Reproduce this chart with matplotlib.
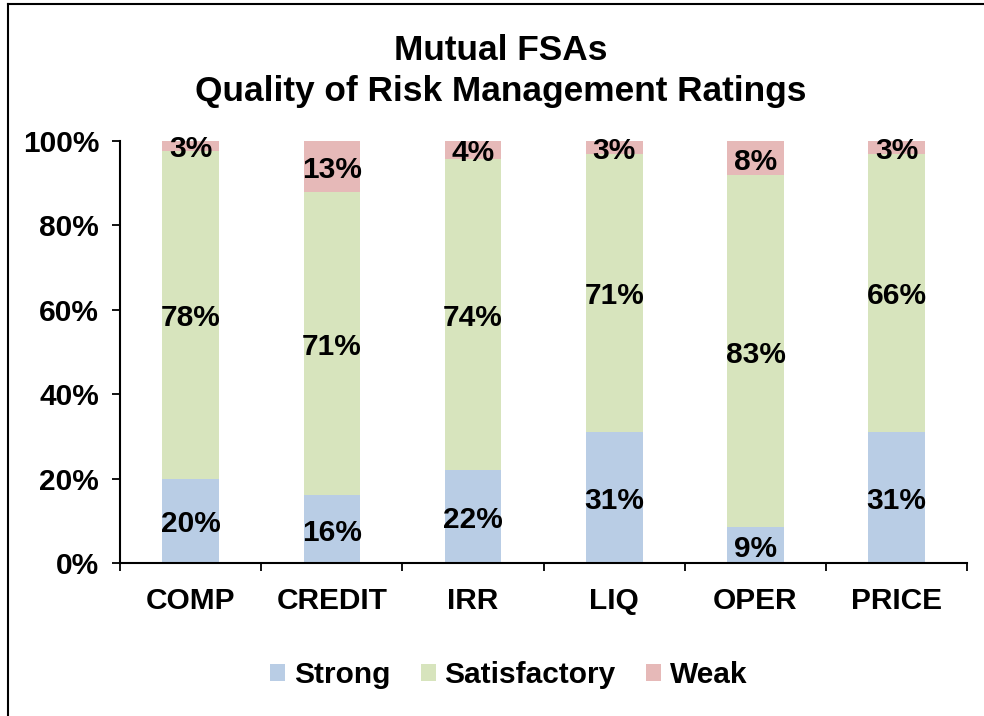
import matplotlib
matplotlib.use("Agg")
import matplotlib.pyplot as plt
from matplotlib.lines import Line2D
from matplotlib.ticker import PercentFormatter
import numpy as np

categories = ["COMP", "CREDIT", "IRR", "LIQ", "OPER", "PRICE"]

# segment heights (share of institutions, %) as drawn
strong = [20.0, 16.0, 22.0, 31.0, 8.5, 31.0]
satisfactory = [77.7, 71.9, 73.8, 66.0, 83.4, 66.0]
weak = [2.3, 12.1, 4.2, 3.0, 8.1, 3.0]

# data labels as printed on the chart
strong_labels = ["20%", "16%", "22%", "31%", "9%", "31%"]
satisfactory_labels = ["78%", "71%", "74%", "71%", "83%", "66%"]
weak_labels = ["3%", "13%", "4%", "3%", "8%", "3%"]

colors = {"Strong": "#B9CDE5", "Satisfactory": "#D7E4BD", "Weak": "#E6B9B8"}
FS = 21.5

plt.rcParams["font.family"] = ["Liberation Sans", "DejaVu Sans"]
plt.rcParams["font.weight"] = "bold"

fig = plt.figure(figsize=(9.84, 7.16), dpi=100)
ax = fig.add_axes([0.122, 0.2137, 0.861, 0.5893])

x = np.arange(len(categories))
width = 0.4
series = [
    ("Strong", strong, strong_labels),
    ("Satisfactory", satisfactory, satisfactory_labels),
    ("Weak", weak, weak_labels),
]
bottom = np.zeros(len(categories))
for name, vals, labels in series:
    vals = np.array(vals)
    ax.bar(x, vals, width, bottom=bottom, color=colors[name], label=name,
           edgecolor="none")
    for xi, b, v, lab in zip(x, bottom, vals, labels):
        ax.annotate(lab, (xi, b + v / 2), xytext=(0, -2.5),
                    textcoords="offset points", ha="center", va="center",
                    fontsize=FS, fontweight="bold", color="black")
    bottom += vals

ax.set_xlim(-0.5, len(categories) - 0.5)
ax.set_ylim(0, 100)
ax.set_yticks(np.arange(0, 101, 20))
ax.yaxis.set_major_formatter(PercentFormatter(decimals=0))

ax.set_xticks(x)
ax.set_xticklabels(categories)
ax.set_xticks(np.arange(-0.5, len(categories), 1.0), minor=True)
ax.tick_params(axis="x", which="major", length=0, pad=17, labelsize=FS)
ax.tick_params(axis="x", which="minor", length=6, width=1.3, direction="out")
ax.tick_params(axis="y", length=6, width=1.3, direction="out", pad=9,
               labelsize=FS)

for side in ("top", "right"):
    ax.spines[side].set_visible(False)
for side in ("left", "bottom"):
    ax.spines[side].set_linewidth(1.5)

fig.text(0.509, 1 - 50 / 716, "Mutual FSAs", ha="center", va="center",
         fontsize=25.4, fontweight="bold")
fig.text(0.509, 1 - 92 / 716, "Quality of Risk Management Ratings",
         ha="center", va="center", fontsize=25.4, fontweight="bold")

fig.legend(loc="center", bbox_to_anchor=(0.517, 1 - 675 / 716), ncol=3,
           frameon=False, fontsize=FS, handlelength=0.5, handleheight=0.5,
           handletextpad=0.3, columnspacing=1.0)

# chart area border (cropped on the right and bottom)
fig.add_artist(Line2D([8 / 984, 8 / 984], [0, 1 - 4 / 716],
                      color="black", linewidth=1.5))
fig.add_artist(Line2D([8 / 984, 1], [1 - 4 / 716, 1 - 4 / 716],
                      color="black", linewidth=1.5))

fig.savefig("out.png", dpi=100)
